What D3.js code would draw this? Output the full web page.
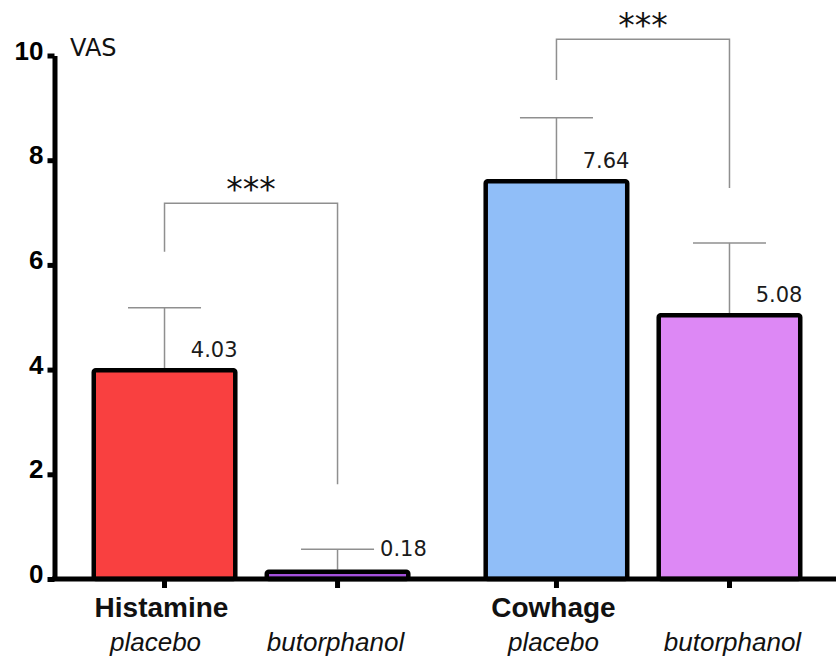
<!DOCTYPE html>
<html>
<head>
<meta charset="utf-8">
<script src="https://cdn.jsdelivr.net/npm/d3@7"></script>
<style>
  html, body { margin: 0; padding: 0; background: #fff; }
  svg { display: block; }
</style>
</head>
<body>
<svg id="chart" width="836" height="663"></svg>
<script>
// ---- data ----
const groups = ["Histamine", "Cowhage"];
const treatments = ["placebo", "butorphanol"];
const means = [
  [4.03, 0.18],   // Histamine: placebo, butorphanol
  [7.64, 5.08]    // Cowhage: placebo, butorphanol
];
const errors = [
  [1.15, 0.39],
  [1.17, 1.34]
];
const yTicks = [0, 2, 4, 6, 8, 10];
const yLabel = "VAS";
// significance brackets: left-leg bottom, top, right-leg bottom (in VAS units)
const bracketLeft = [6.25, 9.53];
const bracketTop = [7.18, 10.31];
const bracketRight = [1.81, 7.47];
const bracketText = ["***", "***"];

// ---- styles ----
const barColors = [
  ["#f94040", "#a451dc"],
  ["#90bef8", "#dd88f5"]
];

const svg = d3.select("#chart");

const y = d3.scaleLinear().domain([0, 10]).range([579, 55.5]);
const xOuter = d3.scaleBand().domain(groups).range([54, 840])
  .paddingInner(0.186).paddingOuter(0.0957);
const xInner = d3.scaleBand().domain(treatments).range([0, xOuter.bandwidth()])
  .paddingInner(0.156);

const bars = [];
groups.forEach((g, gi) => {
  treatments.forEach((t, ti) => {
    const x0 = xOuter(g) + xInner(t);
    bars.push({
      g, t, gi, ti, x0,
      cx: x0 + xInner.bandwidth() / 2,
      v: means[gi][ti], e: errors[gi][ti],
      color: barColors[gi][ti]
    });
  });
});
const bw = xInner.bandwidth();
const sw = 4.5;
const capHalf = bw * 0.25;
const grey = "#8f8f8f";

// significance brackets
groups.forEach((g, gi) => {
  const xl = xOuter(g) + xInner("placebo") + bw / 2;
  const xr = xOuter(g) + xInner("butorphanol") + bw / 2;
  const path = d3.path();
  path.moveTo(xl, y(bracketLeft[gi]));
  path.lineTo(xl, y(bracketTop[gi]));
  path.lineTo(xr, y(bracketTop[gi]));
  path.lineTo(xr, y(bracketRight[gi]));
  svg.append("path").attr("d", path.toString())
    .attr("fill", "none").attr("stroke", grey).attr("stroke-width", 1.5);
  svg.append("text")
    .attr("x", (xl + xr) / 2)
    .attr("y", y(bracketTop[gi]) - 2)
    .attr("text-anchor", "middle")
    .attr("font-family", "DejaVu Sans, Verdana, sans-serif")
    .attr("font-size", 33)
    .attr("fill", "#111")
    .text(bracketText[gi]);
});

// error bars (upper only)
const eb = svg.append("g").attr("stroke", grey).attr("stroke-width", 1.5);
bars.forEach(b => {
  eb.append("line").attr("x1", b.cx).attr("x2", b.cx)
    .attr("y1", y(b.v)).attr("y2", y(b.v + b.e));
  eb.append("line").attr("x1", b.cx - capHalf).attr("x2", b.cx + capHalf)
    .attr("y1", y(b.v + b.e)).attr("y2", y(b.v + b.e));
});

// bars
svg.append("g").selectAll("rect").data(bars).join("rect")
  .attr("x", d => d.x0 + sw / 2)
  .attr("y", d => y(d.v) + sw / 2)
  .attr("width", bw - sw)
  .attr("height", d => y(0) - y(d.v) - sw / 2)
  .attr("rx", 2)
  .attr("fill", d => d.color)
  .attr("stroke", "#000")
  .attr("stroke-width", sw)
  .attr("stroke-linejoin", "round");

// value labels
svg.append("g").selectAll("text").data(bars).join("text")
  .attr("x", d => d.v < 1 ? d.cx + capHalf + 6 : d.x0 + bw)
  .attr("y", d => d.v < 1 ? y(d.v) - 13.5 : y(d.v) - 11)
  .attr("text-anchor", d => d.v < 1 ? "start" : "end")
  .attr("font-family", "DejaVu Sans, Verdana, sans-serif")
  .attr("font-size", 21)
  .attr("fill", "#1a1a1a")
  .text(d => d3.format(".2f")(d.v));

// y axis
const yAxis = d3.axisLeft(y).tickValues(yTicks).tickSize(7).tickPadding(4).tickSizeOuter(0);
const gy = svg.append("g").attr("transform", "translate(54.5,0)").call(yAxis);
gy.select(".domain").attr("stroke", "#000").attr("stroke-width", 5);
gy.selectAll(".tick line").attr("stroke", "#000").attr("stroke-width", 5);
gy.selectAll(".tick text")
  .attr("font-family", "Liberation Sans, Arial, sans-serif")
  .attr("font-weight", "bold")
  .attr("font-size", 26)
  .attr("fill", "#000")
  .attr("dy", "0.14em");

svg.append("text")
  .attr("x", 70).attr("y", 56)
  .attr("font-family", "DejaVu Sans, Verdana, sans-serif")
  .attr("font-size", 24)
  .attr("fill", "#111")
  .text(yLabel);

// x axis
svg.append("line")
  .attr("x1", 52).attr("x2", 836)
  .attr("y1", y(0)).attr("y2", y(0))
  .attr("stroke", "#000").attr("stroke-width", 5);
svg.append("g").selectAll("line").data(bars).join("line")
  .attr("x1", d => d.cx).attr("x2", d => d.cx)
  .attr("y1", y(0)).attr("y2", y(0) + 9)
  .attr("stroke", "#000").attr("stroke-width", 5);

// x labels
svg.append("g").selectAll("text").data(bars.filter(b => b.ti === 0)).join("text")
  .attr("x", d => d.cx - 3)
  .attr("y", 617)
  .attr("text-anchor", "middle")
  .attr("font-family", "Liberation Sans, Arial, sans-serif")
  .attr("font-weight", "bold")
  .attr("font-size", 28)
  .attr("fill", "#111")
  .text(d => d.g);

svg.append("g").selectAll("text").data(bars).join("text")
  .attr("x", d => d.cx + (d.gi === 0 && d.ti === 0 ? -9 : (d.ti === 0 ? -3 : -2 + d.gi * 5)))
  .attr("y", 651)
  .attr("text-anchor", "middle")
  .attr("font-family", "Liberation Sans, Arial, sans-serif")
  .attr("font-style", "italic")
  .attr("font-size", 26)
  .attr("fill", "#111")
  .text(d => d.t);
</script>
</body>
</html>
